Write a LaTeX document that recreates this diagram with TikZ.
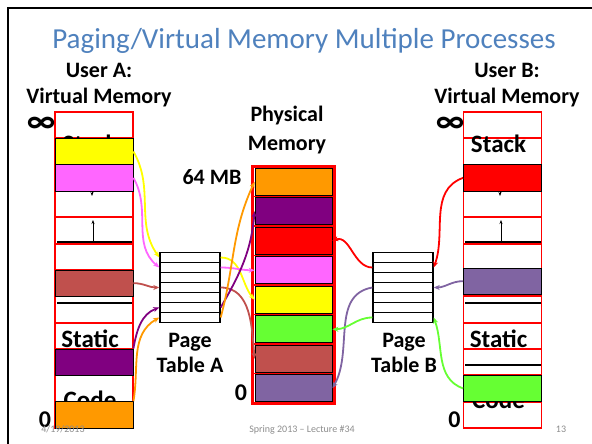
\documentclass[tikz,border=0pt]{standalone}
\usepackage{fontspec}
\setmainfont{Carlito}
\usepackage{tikz}
\usetikzlibrary{arrows.meta, positioning}
\definecolor{titleblue}{HTML}{4F81BD}
\definecolor{pgyellow}{HTML}{FFFF00}
\definecolor{pgpink}{HTML}{FF66FF}
\definecolor{pgbrown}{HTML}{C0504D}
\definecolor{pgpurple}{HTML}{800080}
\definecolor{pgorange}{HTML}{FF9900}
\definecolor{pgred}{HTML}{FF0000}
\definecolor{pglavender}{HTML}{8064A2}
\definecolor{pggreen}{HTML}{66FF33}
\definecolor{footgray}{HTML}{8C8C8C}

\begin{document}
\begin{tikzpicture}[
  x=1pt, y=-1pt,
  vcell/.style={
    draw=red, line width=1.8pt, minimum width=78pt, minimum height=26.33pt, inner sep=0pt
  },
  vpage/.style={
    draw=black, fill=#1, line width=0.8pt, minimum width=78pt, minimum height=26.33pt, inner sep=0pt
  },
  pcell/.style={
    draw=red, line width=1.2pt, minimum width=81pt, minimum height=29.5pt, inner sep=0pt
  },
  ppage/.style={
    draw=black, fill=#1, line width=0.8pt, minimum width=77pt, minimum height=27pt, inner sep=0pt
  },
  ptrow/.style={
    draw=black, fill=white, line width=1.4pt, minimum width=60pt, minimum height=10pt, inner sep=0pt
  },
  heading/.style={
    font=\fontsize{22}{26}\selectfont\bfseries, align=center, anchor=north, inner sep=0pt
  },
  seglabel/.style={
    font=\fontsize{25}{25}\selectfont\bfseries, anchor=base, inner sep=0pt
  },
  zero/.style={
    font=\fontsize{24}{24}\selectfont\bfseries, anchor=base, inner sep=0pt
  },
  infty/.style={
    font=\fontsize{34}{34}\selectfont\bfseries, inner sep=0pt
  },
  pagemap/.style={
    -{Stealth[length=6pt,width=5pt]}, line width=1.8pt, draw=#1
  },
  growth/.style={
    -{Stealth[length=4pt,width=3pt]}, line width=0.8pt
  },
  footer/.style={
    font=\fontsize{10}{10}\selectfont, text=footgray, anchor=base, inner sep=0pt
  }
]
\useasboundingbox (0,0) rectangle (592,444);

% slide frame and title
\draw[line width=2pt] (8,444) -- (8,8) -- (592,8);
\node[font=\fontsize{29}{29}\selectfont, text=titleblue, anchor=base, inner sep=0pt] (title) at (304,49) {Paging/Virtual Memory Multiple Processes};

% User A: virtual memory
\node[heading] (usera) at (99,63) {User A:\\Virtual Memory};
\foreach \i in {1,...,12}
  \node[vcell] (va\i) at (94,{112+26.33*(\i-0.5)}) {};
\node[seglabel] (stacka) at (90,152) {Stack};
\node[seglabel] (statica) at (90,347) {Static};
\node[seglabel] (codea) at (90,408) {Code};
\node[infty] (infa) at (41,125) {∞};
\node[zero] (zeroa) at (45,427) {0};
\draw[line width=1.4pt] (57,242) -- (132,242);
\draw[line width=1.4pt] (57,303) -- (132,303);
\draw[growth] (93,242) -- (93,220);
\draw[growth] (92,180) -- (92,196);
\node[vpage=pgyellow] (ayellow) at (va2) {};
\node[vpage=pgpink] (apink) at (va3) {};
\node[vpage=pgbrown] (abrown) at (va7) {};
\node[vpage=pgpurple] (apurple) at (va10) {};
\node[vpage=pgorange] (aorange) at (va12) {};

% User B: virtual memory
\node[heading] (userb) at (507,63) {User B:\\Virtual Memory};
\foreach \i in {1,...,12}
  \node[vcell] (vb\i) at (502.5,{112+26.33*(\i-0.5)}) {};
\node[seglabel] (stackb) at (498.5,152) {Stack};
\node[seglabel] (staticb) at (498.5,347) {Static};
\node[seglabel] (codeb) at (498.5,408) {Code};
\node[infty] (infb) at (450,125) {∞};
\node[zero] (zerob) at (454.5,427) {0};
\draw[line width=1.4pt] (465,242) -- (541,242);
\draw[line width=1.4pt] (465,303) -- (541,303);
\draw[line width=1.4pt] (465,365) -- (541,365);
\draw[growth] (501,242) -- (501,220);
\draw[growth] (500,180) -- (500,196);
\node[vpage=pgred] (bred) at (vb3) {};
\node[vpage=pglavender] (blavender) at ([yshift=2pt]vb7) {};
\node[vpage=pggreen] (bgreen) at (vb11) {};

% Physical memory
\node[heading, font=\fontsize{22}{29}\selectfont\bfseries] (physlbl) at (287,106) {Physical\\Memory};
\node[font=\fontsize{22}{22}\selectfont\bfseries, anchor=base, inner sep=0pt] (topmb) at (212,184) {64 MB};
\node[zero] (zerop) at (241,400) {0};
\foreach \c [count=\i] in {pgorange,pgpurple,pgred,pgpink,pgyellow,pggreen,pgbrown,pglavender} {
  \node[pcell] (pc\i) at (293.5,{167+29.5*(\i-0.5)}) {};
  \node[ppage=\c] (m\i) at (pc\i) {};
}
\draw[red, line width=2.4pt] (pc1.north west) rectangle (pc8.south east);

% Page tables
\foreach \i in {1,...,7} {
  \node[ptrow] (pta\i) at (190,{252.5+10*(\i-0.5)}) {};
  \node[ptrow] (ptb\i) at (403,{252.5+10*(\i-0.5)}) {};
}
\node[heading, font=\fontsize{22}{25}\selectfont\bfseries] (ptalbl) at (190,333) {Page\\Table A};
\node[heading, font=\fontsize{22}{25}\selectfont\bfseries] (ptblbl) at (404,333) {Page\\Table B};

% User A mappings
\draw[pagemap=pgyellow] (ayellow.east) to[out=-60,in=125] (pta1.west);
\draw[pagemap=pgpink] (apink.east) to[out=-60,in=140] (pta2.west);
\draw[pagemap=pgbrown] (abrown.east) to[out=0,in=180] (pta4.west);
\draw[pagemap=pgpurple] (apurple.north east) to[out=80,in=200] (pta6.west);
\draw[pagemap=pgorange] (aorange.north east) to[out=80,in=210] (pta7.west);
\draw[pagemap=pgyellow] (pta1.east) to[out=0,in=130] (m5.west);
\draw[pagemap=pgpink] (pta2.east) to[out=0,in=180] (m4.west);
\draw[pagemap=pgbrown] (pta4.east) to[out=0,in=95] (m7.west);
\draw[pagemap=pgpurple] (pta6.east) to[out=60,in=-95] (m2.west);
\draw[pagemap=pgorange] (pta7.east) to[out=75,in=-115] (m1.west);

% User B mappings
\draw[pagemap=pgred] (bred.west) to[out=200,in=70] (ptb2.east);
\draw[pagemap=pglavender] (blavender.west) to[out=180,in=0] (ptb4.east);
\draw[pagemap=pggreen] (bgreen.west) to[out=160,in=-70] (ptb7.east);
\draw[pagemap=pgred] (ptb2.west) to[out=180,in=20] (m3.east);
\draw[pagemap=pglavender] (ptb4.west) to[out=190,in=60] (m8.east);
\draw[pagemap=pggreen] (ptb7.west) to[out=180,in=0] (m6.east);

% Footer
\node[footer] (date) at (63,432) {4/19/2013};
\node[footer] (course) at (302,432) {Spring 2013 -- Lecture \#34};
\node[footer] (slideno) at (561,432) {13};

\end{tikzpicture}
\end{document}
